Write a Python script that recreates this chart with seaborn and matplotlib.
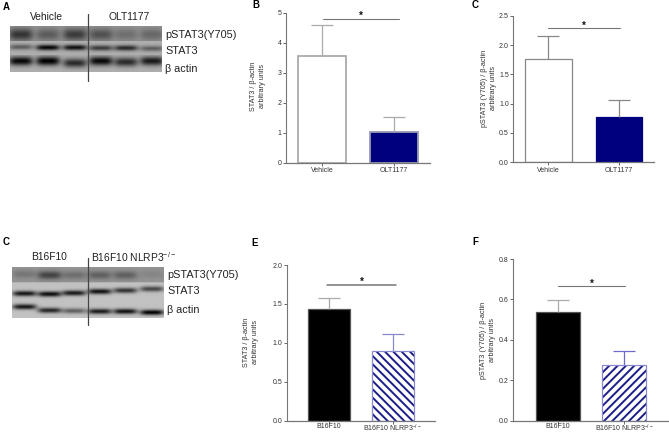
#Western blots and densitometry bar charts
import numpy as np
import matplotlib
matplotlib.use("Agg")
import matplotlib.pyplot as plt
import seaborn as sb

sb.set_style("white")
plt.rcParams["font.family"] = ["Liberation Sans", "DejaVu Sans"]
plt.rcParams["mathtext.fontset"] = "custom"
plt.rcParams["mathtext.rm"] = "Liberation Sans"
plt.rcParams["mathtext.default"] = "regular"
plt.rcParams["hatch.linewidth"] = 1.4

W, H = 669, 433

# Bar values
groups_top = ["Vehicle", "OLT1177"]
groups_bottom = ["B16F10", "B16F10 NLRP3$^{-/-}$"]
stat3_top = [3.55, 1.03]
stat3_top_upper = [4.60, 1.53]
pstat3_top = [1.77, 0.78]
pstat3_top_upper = [2.15, 1.06]
stat3_bottom = [1.43, 0.90]
stat3_bottom_upper = [1.58, 1.12]
pstat3_bottom = [0.54, 0.277]
pstat3_bottom_upper = [0.597, 0.345]

ticks_b = [0, 1, 2, 3, 4, 5]
ticks_c = [0.0, 0.5, 1.0, 1.5, 2.0, 2.5]
ticks_e = [0.0, 0.5, 1.0, 1.5, 2.0]
ticks_f = [0.0, 0.2, 0.4, 0.6, 0.8]

# Band darkness per blot row and lane (0 = nothing, 1 = black)
blot_top_bands = [[0.65, 0.38, 0.60, 0.45, 0.25, 0.30],
                  [0.45, 0.95, 0.90, 0.65, 0.75, 0.45],
                  [0.95, 1.00, 0.75, 0.95, 0.75, 0.85]]
blot_bottom_bands = [[0.20, 0.55, 0.25, 0.35, 0.35, 0.10],
                     [0.90, 0.95, 0.88, 0.92, 0.75, 0.65],
                     [0.88, 0.80, 0.50, 0.85, 0.90, 0.98]]
blot_top_bg = [0.58, 0.68, 0.68]
blot_bottom_bg = [0.58, 0.76, 0.76]
blot_labels = ["pSTAT3(Y705)", "STAT3", "\u03b2 actin"]


#Make an axes from pixel positions of the reference
def px_axes(x0, y0, x1, y1):
    return fig.add_axes([x0 / W, 1 - y1 / H, (x1 - x0) / W, (y1 - y0) / H])


def px_text(x, y, s, **kw):
    fig.text(x / W, 1 - y / H, s, **kw)


#Draw one blot as a grayscale picture
def blot(box, row_edges, lanes, centers, bands, bg, spread):
    x0, x1 = box
    xs = np.arange(x0, x1) + 0.5
    ys = np.arange(row_edges[0], row_edges[-1]) + 0.5
    xx, yy = np.meshgrid(xs, ys)
    img = np.ones_like(xx)
    for r in range(3):
        inside = (yy >= row_edges[r]) & (yy < row_edges[r + 1])
        img[inside] = bg[r]
        for i, lane in enumerate(lanes):
            cy = centers[r][i]
            wy = spread[r]
            shape = np.exp(-((xx - lane) / 12) ** 4 - ((yy - cy) / wy) ** 2)
            img[inside] = (img * (1 - bands[r][i] * shape))[inside]
    ax = px_axes(x0, row_edges[0], x1, row_edges[-1])
    ax.imshow(img, cmap="gray", vmin=0, vmax=1, aspect="auto", interpolation="bilinear")
    ax.axis("off")


#Bar panel with upper error bar and significance line
def bar_panel(box, xlim, cats, vals, upper, ticks, ymax, colors, edges, err_colors,
              hatch, ylabel, label_pos, sig, edge_w=1.3, xpad=1.5):
    x0, y0, x1, y1 = box
    ax = px_axes(x0, y0, x1, y1)
    sb.barplot(x=cats, y=vals, hue=cats, palette=colors, legend=False, width=0.66, ax=ax, saturation=1)
    for i, patch in enumerate(ax.patches[:2]):
        patch.set_edgecolor(edges[i])
        patch.set_linewidth(edge_w)
        if hatch and i == 1:
            #hatch takes the edge colour, so the lighter outline goes on top
            patch.set_edgecolor("#1c1c88")
            patch.set_hatch(hatch)
            patch.set_linewidth(0)
            ax.add_patch(plt.Rectangle(patch.get_xy(), patch.get_width(), patch.get_height(),
                                       fill=False, ec=edges[i], lw=edge_w, zorder=3))
    for i in range(2):
        err = ax.errorbar(i, vals[i], yerr=[[0], [upper[i] - vals[i]]], color=err_colors[i],
                          elinewidth=0.9, capsize=8.2, capthick=0.9, zorder=1)
        #only the upper cap is wanted
        err[1][0].set_visible(False)
    ax.plot(sig[:2], [sig[2], sig[2]], color="#777777", lw=sig[4])
    ax.text(sum(sig[:2]) / 2, sig[3], "*", fontsize=7, fontweight="bold", ha="center", va="center", color="#111111")
    ax.set_xlim(xlim)
    ax.set_ylim(0, ymax)
    ax.set_yticks(ticks)
    if isinstance(ticks[0], float):
        ax.set_yticklabels([f"{t:.1f}" for t in ticks])
    ax.tick_params(axis="both", labelsize=5, length=2.2, width=0.7, color="#666666", labelcolor="#333333", pad=1, left=True, bottom=True)
    ax.tick_params(axis="x", pad=xpad, length=1.8)
    sb.despine(ax=ax)
    ax.spines["left"].set_color("#777777")
    ax.spines["bottom"].set_color("#777777")
    ax.spines["left"].set_linewidth(0.8)
    ax.spines["bottom"].set_linewidth(0.9)
    ax.patch.set_alpha(0)
    ax.set_ylabel(ylabel, fontsize=5.25, color="#333333", va="center", ha="center", linespacing=1.3)
    ax.yaxis.set_label_coords((label_pos[0] - x0) / (x1 - x0), (y1 - label_pos[1]) / (y1 - y0))
    return ax


fig = plt.figure(figsize=(W / 100, H / 100), dpi=100, facecolor="white")

# Panel letters
for x, y, s in [(3, 7, "A"), (252, 5, "B"), (472, 5, "C"), (3, 242, "C"), (251, 243, "E"), (472, 242, "F")]:
    px_text(x, y, s, fontsize=7, fontweight="bold", ha="left", va="center", color="black")

# Top blot
blot((10, 162), [26, 41, 55, 72], [21, 48, 75, 101, 126, 152],
     [[34.5] * 6, [47, 47.5, 47.5, 48, 48, 48.5], [61, 61, 63, 61, 62, 61]],
     blot_top_bands, blot_top_bg, [6, 2.8, 4.5])
px_text(46, 17.5, "Vehicle", fontsize=7.4, ha="center", va="center", color="#222222")
px_text(129, 17.5, "OLT1177", fontsize=7.4, ha="center", va="center", color="#222222")
for y, s in zip([34.5, 51, 69.5], blot_labels):
    px_text(165, y, s, fontsize=7.8, ha="left", va="center", color="#222222")
fig.add_artist(plt.Line2D([88 / W, 88 / W], [1 - 14 / H, 1 - 81 / H], color="#444444", lw=0.9))

# Bottom blot
blot((12, 164), [267, 283, 301, 318], [24.7, 49.7, 74, 99.7, 125.3, 152],
     [[275, 276, 276, 276, 276, 275], [294, 294.5, 293.5, 292, 291, 289.5], [307, 310.5, 311, 311.5, 311.5, 312.5]],
     blot_bottom_bands, blot_bottom_bg, [4, 2.6, 2.6])
px_text(49, 257, "B16F10", fontsize=7.4, ha="center", va="center", color="#222222")
px_text(91, 257, "B16F10 NLRP3$^{-/-}$", fontsize=7.4, ha="left", va="center", color="#222222")
for y, s in zip([275, 291, 310], blot_labels):
    px_text(167, y, s, fontsize=7.8, ha="left", va="center", color="#222222")
fig.add_artist(plt.Line2D([88 / W, 88 / W], [1 - 258 / H, 1 - 325 / H], color="#444444", lw=0.9))

# Bar charts
navy = "#00007f"
bar_panel((286, 12.5, 430, 162.7), (-0.5, 1.5), groups_top, stat3_top, stat3_top_upper, ticks_b, 5,
          ["white", navy], ["#aaaaaa", "#9a9ab0"], ["#aaaaaa", "#aaaaaa"], None,
          "STAT3 / \u03b2-actin\narbitrary units", (258, 86), (0.01, 1.07, 4.77, 4.88, 0.8))
bar_panel((513.3, 15.7, 654, 162.3), (-0.5, 1.5), groups_top, pstat3_top, pstat3_top_upper, ticks_c, 2.5,
          ["white", navy], ["#888888", navy], ["#888888", "#888888"], None,
          "pSTAT3 (Y705) / \u03b2-actin\narbitrary units", (489, 88), (-0.01, 1.01, 2.285, 2.32, 0.8), edge_w=0.9)
bar_panel((286.7, 265, 435, 420.7), (-0.66, 1.66), groups_bottom, stat3_bottom, stat3_bottom_upper, ticks_e, 2,
          ["black", "white"], ["#555555", "#8a8ad0"], ["#aaaaaa", "#8888cc"], "\\\\\\\\",
          "STAT3 / \u03b2-actin\narbitrary units", (251, 342), (-0.03, 1.05, 1.743, 1.785, 1.1), edge_w=0.9, xpad=0)
bar_panel((513.3, 259, 669, 420.7), (-0.67, 1.67), groups_bottom, pstat3_bottom, pstat3_bottom_upper, ticks_f, 0.8,
          ["black", "white"], ["#555555", "#8a8ad0"], ["#aaaaaa", "#6a6acc"], "////",
          "pSTAT3 (Y705) / \u03b2-actin\narbitrary units", (488, 340), (0, 1.01, 0.665, 0.675, 0.8), edge_w=0.9, xpad=0)

plt.savefig("out.png", dpi=100)
